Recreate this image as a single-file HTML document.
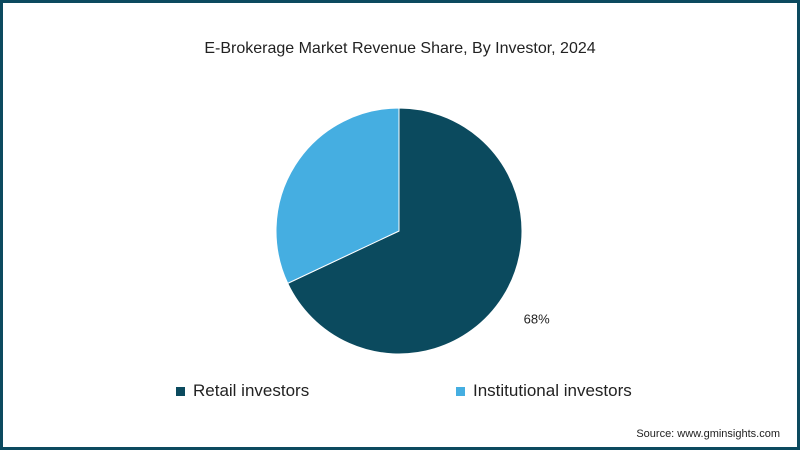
<!DOCTYPE html>
<html><head><meta charset="utf-8"><style>
html,body{margin:0;padding:0;background:#fff}
#frame{position:relative;width:800px;height:450px;box-sizing:border-box;border:3px solid #0c4a5f;font-family:"Liberation Sans",sans-serif;overflow:hidden}
#title{position:absolute;left:0;width:794px;top:37px;text-align:center;font-size:16px;color:#222}
.leg{position:absolute;top:378px;font-size:17px;color:#222;display:flex;align-items:center}
.sw{width:9px;height:9px;margin-right:8px}
#src{position:absolute;right:17px;top:425px;font-size:11px;color:#222}
</style></head><body>
<div id="frame">
<div id="title">E-Brokerage Market Revenue Share, By Investor, 2024</div>
<svg id="pie" width="794" height="444" style="position:absolute;left:0;top:0"></svg>
<div class="leg" style="left:173px"><span class="sw" style="background:#0b4a5e"></span>Retail investors</div>
<div class="leg" style="left:453px"><span class="sw" style="background:#45aee1"></span>Institutional investors</div>
<div id="src">Source: www.gminsights.com</div>
</div>
<script>
const categories=["Retail investors","Institutional investors"];
const values=[68,32];
const labels=["68%",""];
const colors=["#0b4a5e","#45aee1"];
const svg=document.getElementById('pie');
const NS="http://www.w3.org/2000/svg";
const cx=396,cy=228,r=123;
const total=values.reduce((a,b)=>a+b,0);
let start=0;
function pt(a,rr){return [cx+rr*Math.sin(a),cy-rr*Math.cos(a)];}
values.forEach((v,i)=>{
  const ang=v/total*2*Math.PI;
  const end=start+ang;
  const p1=pt(start,r),p2=pt(end,r);
  const large=ang>Math.PI?1:0;
  const path=document.createElementNS(NS,'path');
  path.setAttribute('d',`M${cx},${cy} L${p1[0]},${p1[1]} A${r},${r} 0 ${large} 1 ${p2[0]},${p2[1]} Z`);
  path.setAttribute('fill',colors[i]);
  path.setAttribute('stroke','#fff');
  path.setAttribute('stroke-width','1');
  
  
  svg.appendChild(path);
  if(labels[i]){
    const mid=start+ang/2;
    const lp=pt(mid,r+40);
    const t=document.createElementNS(NS,'text');
    t.setAttribute('x',lp[0]);t.setAttribute('y',lp[1]+5);
    t.setAttribute('text-anchor','middle');
    t.setAttribute('font-size','13');
    t.setAttribute('font-family','Liberation Sans, sans-serif');
    t.setAttribute('fill','#222');
    t.textContent=labels[i];
    
    
    svg.appendChild(t);
  }
  start=end;
});
</script>
</body></html>
